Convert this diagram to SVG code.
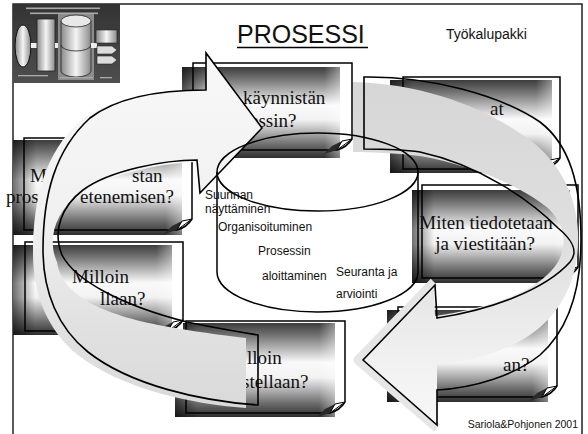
<svg xmlns="http://www.w3.org/2000/svg" width="588" height="434" viewBox="0 0 588 434">
<defs>
  <linearGradient id="gBox" x1="0" y1="0" x2="0" y2="1">
    <stop offset="0" stop-color="#3c3c3c"/>
    <stop offset="0.12" stop-color="#6e6e6e"/>
    <stop offset="0.42" stop-color="#fafafa"/>
    <stop offset="0.58" stop-color="#f2f2f2"/>
    <stop offset="0.86" stop-color="#6a6a6a"/>
    <stop offset="1" stop-color="#2e2e2e"/>
  </linearGradient>
  <linearGradient id="gSide" x1="0" y1="0" x2="1" y2="0">
    <stop offset="0" stop-color="#000" stop-opacity="0.55"/>
    <stop offset="0.14" stop-color="#000" stop-opacity="0"/>
    <stop offset="0.9" stop-color="#fff" stop-opacity="0"/>
    <stop offset="1" stop-color="#fff" stop-opacity="0.4"/>
  </linearGradient>
  <linearGradient id="gLA" gradientUnits="userSpaceOnUse" x1="0" y1="50" x2="0" y2="410">
    <stop offset="0" stop-color="#f8f8f8"/>
    <stop offset="0.45" stop-color="#f1f1f1"/>
    <stop offset="0.75" stop-color="#e2e2e2"/>
    <stop offset="1" stop-color="#d9d9d9"/>
  </linearGradient>
  <linearGradient id="gRA" gradientUnits="userSpaceOnUse" x1="0" y1="80" x2="0" y2="425">
    <stop offset="0" stop-color="#d6d6d6"/>
    <stop offset="0.5" stop-color="#e0e0e0"/>
    <stop offset="0.8" stop-color="#f0f0f0"/>
    <stop offset="1" stop-color="#f8f8f8"/>
  </linearGradient>
  <linearGradient id="gThumb" x1="0" y1="0" x2="0" y2="1">
    <stop offset="0" stop-color="#333"/>
    <stop offset="1" stop-color="#4e4e4e"/>
  </linearGradient>
  <linearGradient id="gThumbH" x1="0" y1="0" x2="1" y2="0">
    <stop offset="0" stop-color="#8a8a8a"/>
    <stop offset="0.5" stop-color="#f5f5f5"/>
    <stop offset="1" stop-color="#8a8a8a"/>
  </linearGradient>
</defs>
<style>
  .frame{fill:none;stroke:#222;stroke-width:1.5}
  .obg{fill:#fff}
  .bg{fill:url(#gBox)}
  .side{fill:url(#gSide)}
  .ol{fill:none;stroke:#000;stroke-width:1.5}
  .fold{fill:#fff;stroke:#000;stroke-width:1}
  .fsh{fill:#2a2a2a}
  .bt{font-family:"Liberation Serif","Times New Roman",serif;font-size:19px;fill:#111}
  .ct{font-family:"Liberation Sans",Arial,sans-serif;font-size:12px;fill:#111}
  .st{font-family:"Liberation Sans",Arial,sans-serif;fill:#111}
  .arr{fill:none;stroke:#000;stroke-width:1.6}
  .cyl{fill:none;stroke:#000;stroke-width:1.5}
</style>

<rect class="frame" x="13" y="4" width="569" height="440"/>

<g id="thumbnail">
  <rect x="13" y="4" width="107" height="79" fill="url(#gThumb)"/>
  <g fill="#c8c8c8" opacity="0.8">
    <rect x="26" y="7.5" width="74" height="1.6"/>
    <rect x="30" y="12.5" width="68" height="1.6"/>
  </g>
  <ellipse cx="23" cy="46" rx="8" ry="21" fill="url(#gThumbH)" stroke="#111" stroke-width="1"/>
  <rect x="31" y="43" width="6" height="5" fill="#eee"/>
  <rect x="37" y="19" width="18" height="52" fill="url(#gThumbH)" stroke="#222" stroke-width="0.8"/>
  <rect x="55" y="43" width="5" height="5" fill="#eee"/>
  <rect x="58" y="14" width="36" height="66" fill="#8c8c8c"/>
  <path d="M61,21 V71 A15,6 0 0 0 91,71 V21" fill="url(#gThumbH)" stroke="#222" stroke-width="0.8"/>
  <ellipse cx="76" cy="21" rx="15" ry="6" fill="#e8e8e8" stroke="#222" stroke-width="0.8"/>
  <path d="M61,45 A15,6 0 0 0 91,45" fill="none" stroke="#222" stroke-width="0.8"/>
  <rect x="91" y="43" width="6" height="5" fill="#eee"/>
  <rect x="96" y="30" width="21" height="13" fill="url(#gThumbH)" stroke="#222" stroke-width="0.6"/>
  <path d="M97,46 H112 L117,50 L112,54 H97 Z" fill="#ddd" stroke="#222" stroke-width="0.6"/>
  <path d="M97,56 H112 L117,60 L112,64 H97 Z" fill="#ddd" stroke="#222" stroke-width="0.6"/>
  <g fill="#aaa">
    <rect x="18" y="75" width="30" height="1.3"/>
    <rect x="60" y="77" width="33" height="1.3"/>
    <rect x="100" y="77" width="12" height="1.3"/>
  </g>
</g>

<g id="title">
  <text class="st" x="237" y="43" font-size="25">PROSESSI</text>
  <line x1="237" y1="47.5" x2="368" y2="47.5" stroke="#000" stroke-width="1.5"/>
</g>
<g id="toolkit"><text class="st" x="446" y="39" font-size="14">Työkalupakki</text></g>
<g id="footer"><text class="st" x="578" y="428" font-size="10.5" text-anchor="end">Sariola&amp;Pohjonen 2001</text></g>

<g id="cylinder-body">
  <path d="M217,172 V272 A100.5,40 0 0 0 418,272 V172 Z" fill="#fff"/>
  <ellipse cx="317.5" cy="172" rx="100.5" ry="39" fill="#fff"/>
</g>

<g id="box-a">
  <rect class="obg" x="193" y="63" width="159" height="87"/>
  <rect class="bg" x="182" y="67" width="158" height="91"/>
  <rect class="side" x="182" y="67" width="158" height="91"/>
  <path class="ol" d="M193,63 H352 V139 C349,144 344,148 337,150 H193 Z"/>
  <path class="fsh" d="M337,150 L342,141 L332,146 L324,154 Z"/>
  <path class="fold" d="M352,139 L342,141 L337,150 Z"/>
  <text class="bt" x="243" y="104">käynnistän</text>
  <text class="bt" x="250" y="127">essin?</text>
</g>

<g id="box-b">
  <rect class="obg" x="403" y="77" width="157" height="92"/>
  <rect class="bg" x="390" y="80" width="162" height="93"/>
  <rect class="side" x="390" y="80" width="162" height="93"/>
  <path class="ol" d="M403,77 H560 V158 C557,163 552,167 545,169 H403 Z"/>
  <path class="fsh" d="M545,169 L550,160 L540,165 L532,173 Z"/>
  <path class="fold" d="M560,158 L550,160 L545,169 Z"/>
  <text class="bt" x="490" y="115">at</text>
</g>

<g id="box-c">
  <rect class="obg" x="422" y="185" width="156" height="93"/>
  <rect class="bg" x="412" y="190" width="158" height="93"/>
  <rect class="side" x="412" y="190" width="158" height="93"/>
  <path class="ol" d="M422,185 H578 V267 C575,272 570,276 563,278 H422 Z"/>
  <path class="fsh" d="M563,278 L568,269 L558,274 L550,282 Z"/>
  <path class="fold" d="M578,267 L568,269 L563,278 Z"/>
  <text class="bt" x="486" y="229" text-anchor="middle">Miten tiedotetaan</text>
  <text class="bt" x="485" y="250" text-anchor="middle">ja viestitään?</text>
</g>

<g id="box-d">
  <rect class="obg" x="398" y="307" width="159" height="90"/>
  <rect class="bg" x="387" y="310" width="161" height="92"/>
  <rect class="side" x="387" y="310" width="161" height="92"/>
  <path class="ol" d="M398,307 H557 V386 C554,391 549,395 542,397 H398 Z"/>
  <path class="fsh" d="M542,397 L547,388 L537,393 L529,401 Z"/>
  <path class="fold" d="M557,386 L547,388 L542,397 Z"/>
  <text class="bt" x="503" y="371">an?</text>
</g>

<g id="box-e">
  <rect class="obg" x="186" y="321" width="159" height="92"/>
  <rect class="bg" x="175" y="323" width="160" height="94"/>
  <rect class="side" x="175" y="323" width="160" height="94"/>
  <path class="ol" d="M186,321 H345 V402 C342,407 337,411 330,413 H186 Z"/>
  <path class="fsh" d="M330,413 L335,404 L325,409 L317,417 Z"/>
  <path class="fold" d="M345,402 L335,404 L330,413 Z"/>
  <text class="bt" x="247" y="364">lloin</text>
  <text class="bt" x="242" y="388">stellaan?</text>
</g>

<g id="box-f">
  <rect class="obg" x="25" y="242" width="158" height="89"/>
  <rect class="bg" x="13" y="245" width="159" height="90"/>
  <rect class="side" x="13" y="245" width="159" height="90"/>
  <path class="ol" d="M25,242 H183 V320 C180,325 175,329 168,331 H25 Z"/>
  <path class="fsh" d="M168,331 L173,322 L163,327 L155,335 Z"/>
  <path class="fold" d="M183,320 L173,322 L168,331 Z"/>
  <text class="bt" x="72" y="283">Milloin</text>
  <text class="bt" x="100" y="305">llaan?</text>
</g>

<g id="box-g">
  <rect class="obg" x="24" y="138" width="168" height="92"/>
  <rect class="bg" x="13" y="140" width="169" height="95"/>
  <rect class="side" x="13" y="140" width="169" height="95"/>
  <path class="ol" d="M24,138 H192 V219 C189,224 184,228 177,230 H24 Z"/>
  <path class="fsh" d="M177,230 L182,221 L172,226 L164,234 Z"/>
  <path class="fold" d="M192,219 L182,221 L177,230 Z"/>
  <text class="bt" x="30" y="182">M</text>
  <text class="bt" x="132" y="182">stan</text>
  <text class="bt" x="6" y="203">pros</text>
  <text class="bt" x="80" y="203">etenemisen?</text>
</g>

<g id="connectors">
  <path id="arrow-left-fill" fill="url(#gLA)" d="M246,338 L246,408 C190,404 120,388 78,355 C48,331 33,295 33,253 C33,198 45,153 80,121 C112,97 160,90 206,90 L206,53 L262,128 L200,193 L197,162 C160,163 105,175 78,195 C55,212 47,240 57,262 C62,300 115,318 175,328 C205,333 228,336 246,338 Z"/>
  <path id="arrow-right-halo" fill="none" stroke="#e6e6e6" stroke-width="9" stroke-linejoin="round" d="M437,428 L358,360 L434,282"/>
  <path id="arrow-right-fill" fill="url(#gRA)" d="M353,82 C420,84 475,104 515,130 C550,150 576,185 578,232 C580,280 560,318 522,340 C497,354 467,362 437,364 L437,425 L361,360 L434,285 L435,316 C490,308 545,290 560,258 C568,238 562,222 548,208 C520,185 470,165 420,156 C395,153 370,152 353,152 Z"/>
  <path class="arr" d="M258,335 L258,405 C200,401 130,385 88,352 C58,328 43,292 43,250 C43,195 55,150 90,118 C120,95 165,90 206,90 L206,53 L262,128 L200,193 L197,160 C165,160 110,170 83,190 C62,206 52,230 62,255 C75,280 120,305 187,322 C215,328 240,332 258,335 Z"/>
  <path class="arr" d="M364,77 C430,76 500,95 540,122 C570,145 581,185 581,240 C581,290 568,330 540,355 C515,375 475,388 437,390 L437,425 L363,360 L435,285 L437,318 C490,310 545,290 570,262 C580,250 570,238 558,228 C530,200 480,165 420,152 C400,149 380,149 364,149 Z"/>
</g>

<g id="cylinder">
  <ellipse class="cyl" cx="317.5" cy="172" rx="100.5" ry="39"/>
  <path class="cyl" d="M217,172 V272 A100.5,40 0 0 0 418,272 V172"/>
  <text class="ct" x="205" y="199">Suunnan</text>
  <text class="ct" x="205" y="213">näyttäminen</text>
  <text class="ct" x="218" y="231">Organisoituminen</text>
  <text class="ct" x="258" y="255">Prosessin</text>
  <text class="ct" x="262" y="280">aloittaminen</text>
  <text class="ct" x="336" y="276">Seuranta ja</text>
  <text class="ct" x="336" y="298">arviointi</text>
</g>
</svg>
